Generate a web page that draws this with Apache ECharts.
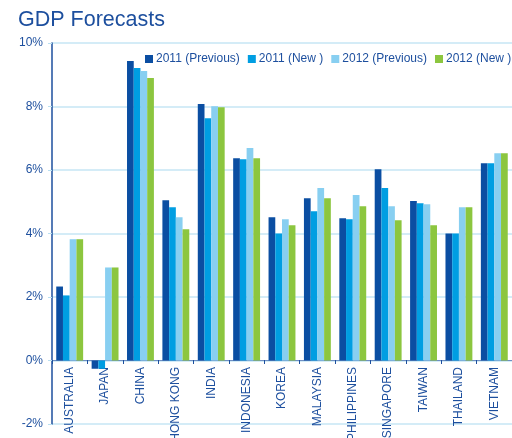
<!DOCTYPE html>
<html><head><meta charset="utf-8">
<script src="https://cdn.jsdelivr.net/npm/echarts@6/dist/echarts.min.js"></script>
<style>html,body{margin:0;padding:0;background:#fff}#c{width:512px;height:438px}</style>
</head><body><div id="c"></div>
<script>
const categories = ["AUSTRALIA","JAPAN","CHINA","HONG KONG","INDIA","INDONESIA","KOREA","MALAYSIA","PHILIPPINES","SINGAPORE","TAIWAN","THAILAND","VIETNAM"];
const prev2011 = [2.33,-0.26,9.43,5.05,8.08,6.37,4.51,5.11,4.48,6.02,5.02,4.0,6.21];
const new2011  = [2.05,-0.26,9.21,4.83,7.63,6.34,4.0,4.70,4.45,5.43,4.95,4.0,6.21];
const prev2012 = [3.82,2.93,9.12,4.51,8.01,6.69,4.45,5.43,5.21,4.86,4.92,4.83,6.53];
const new2012  = [3.82,2.93,8.90,4.13,7.98,6.37,4.26,5.11,4.86,4.42,4.26,4.83,6.53];
const seriesNames = ["2011 (Previous)","2011 (New )","2012 (Previous)","2012 (New )"];
const colors = ["#0b4ea2","#009ee2","#88cff1","#8cc63f"];
const textColor = "#1d4f9e";
const font = "Liberation Sans, Arial, sans-serif";
const chart = echarts.init(document.getElementById('c'));
const data = [prev2011,new2011,prev2012,new2012];
chart.setOption({
  animation:false,
  color:colors,
  title:{text:"GDP Forecasts",left:13,top:4,textStyle:{color:textColor,fontFamily:font,fontSize:21.5,fontWeight:'normal'}},
  legend:{left:140,top:48,width:420,itemWidth:8,itemHeight:8,itemGap:8,icon:'rect',
    textStyle:{color:textColor,fontFamily:font,fontSize:12,padding:[0,0,0,-2]},
    data:seriesNames},
  grid:{left:52,right:0,top:43,bottom:14,containLabel:false,outerBoundsMode:'none'},
  xAxis:{type:'category',data:categories,offset:-64,
    axisLine:{onZero:false,lineStyle:{color:'#6f8fc2',width:1}},
    axisTick:{show:true,length:4,lineStyle:{color:'#1d4f9e'}},
    axisLabel:{interval:0,rotate:90,margin:7,color:textColor,fontFamily:font,fontSize:12}},
  yAxis:{type:'value',min:-2,max:10,interval:2,
    axisLine:{show:true,lineStyle:{color:'#1d4f9e',width:1.5}},
    axisTick:{show:true,length:4,lineStyle:{color:'#b9dff1'}},
    splitLine:{lineStyle:{color:'#c6e6f4',width:1.5}},
    axisLabel:{formatter:'{value}%',margin:9,color:textColor,fontFamily:font,fontSize:12}},
  series:seriesNames.map((n,i)=>({name:n,type:'bar',data:data[i],barGap:'0%',barCategoryGap:'24%'}))
});
</script></body></html>
